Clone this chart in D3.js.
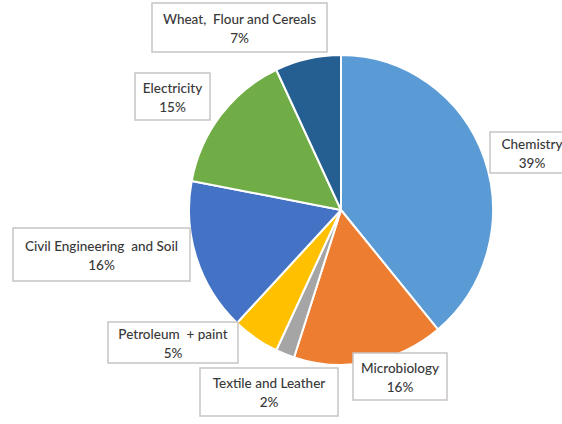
<!DOCTYPE html>
<html>
<head>
<meta charset="utf-8">
<script src="https://cdn.jsdelivr.net/npm/d3@7"></script>
<style>
  body { margin: 0; background: #fff; }
  svg { display: block; }
</style>
</head>
<body>
<div id="chart"></div>
<script>
// data
var categories = ["Chemistry", "Microbiology", "Textile and Leather", "Petroleum  + paint",
                  "Civil Engineering  and Soil", "Electricity", "Wheat,  Flour and Cereals"];
var values = [39, 16, 2, 5, 16, 15, 7];
var colors = ["#5b9bd5", "#ed7d31", "#a5a5a5", "#ffc000", "#4472c4", "#70ad47", "#255e91"];

// label boxes (layout only): x, y, w, h
var labelBoxes = [
  [490, 132, 84, 41],
  [353, 353, 94, 47],
  [200, 368, 138, 48],
  [108, 322, 130, 41],
  [13, 228, 177, 53],
  [135, 73, 75, 47],
  [152, 3, 175, 49]
];

var width = 562, height = 424;
var cx = 341, cy = 210, r = 152;

var svg = d3.select("#chart").append("svg")
    .attr("width", width)
    .attr("height", height);

var pie = d3.pie().sort(null).value(function(d) { return d; });
var arc = d3.arc().innerRadius(0).outerRadius(r);

var g = svg.append("g")
    .attr("transform", "translate(" + cx + "," + cy + ") scale(1,1.02)");

g.selectAll("path.slice")
  .data(pie(values))
  .enter().append("path")
    .attr("class", "slice")
    .attr("d", arc)
    .attr("fill", function(d, i) { return colors[i]; })
    .attr("stroke", "#fff")
    .attr("stroke-width", 2)
    .attr("stroke-linejoin", "round");

// labels
var labels = svg.selectAll("g.lbl")
  .data(categories)
  .enter().append("g")
    .attr("class", "lbl");

labels.append("rect")
    .attr("x", function(d, i) { return labelBoxes[i][0]; })
    .attr("y", function(d, i) { return labelBoxes[i][1]; })
    .attr("width", function(d, i) { return labelBoxes[i][2]; })
    .attr("height", function(d, i) { return labelBoxes[i][3]; })
    .attr("fill", "#fff")
    .attr("stroke", "#c8c3c3")
    .attr("stroke-width", 1.5);

var txt = labels.append("text")
    .attr("text-anchor", "middle")
    .attr("font-family", "Lato, 'Open Sans', sans-serif")
    .attr("font-size", 13.5)
    .attr("font-weight", 500)
    .attr("fill", "#383838");

txt.append("tspan")
    .attr("x", function(d, i) { return labelBoxes[i][0] + labelBoxes[i][2] / 2; })
    .attr("y", function(d, i) { return labelBoxes[i][1] + labelBoxes[i][3] / 2 - 4; })
    .attr("xml:space", "preserve")
    .style("white-space", "pre")
    .text(function(d) { return d; });

txt.append("tspan")
    .attr("x", function(d, i) { return labelBoxes[i][0] + labelBoxes[i][2] / 2; })
    .attr("y", function(d, i) { return labelBoxes[i][1] + labelBoxes[i][3] / 2 + 15; })
    .text(function(d, i) { return values[i] + "%"; });
</script>
</body>
</html>
